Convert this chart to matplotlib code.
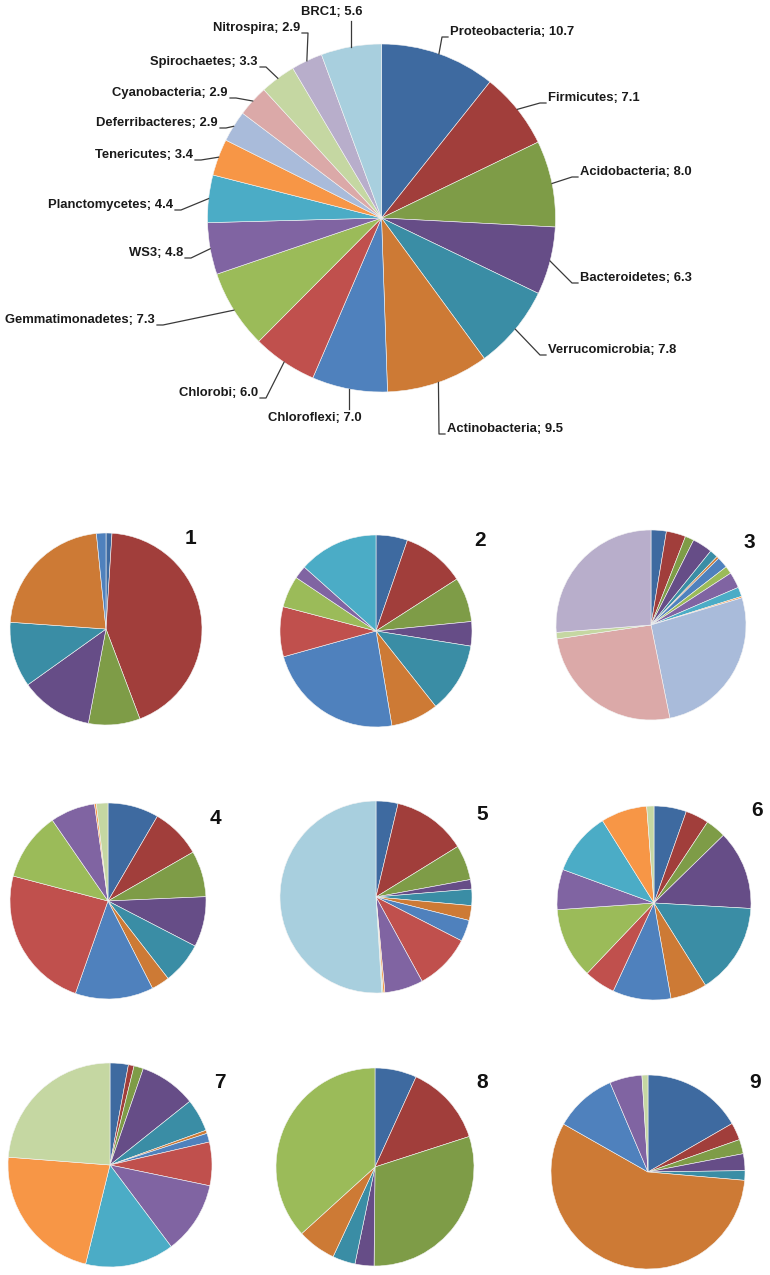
import numpy as np
import matplotlib
matplotlib.use("Agg")
import matplotlib.pyplot as plt

W, H = 770, 1275

# phyla and their share (%) in the pooled sample
phyla = ["Proteobacteria", "Firmicutes", "Acidobacteria", "Bacteroidetes",
         "Verrucomicrobia", "Actinobacteria", "Chloroflexi", "Chlorobi",
         "Gemmatimonadetes", "WS3", "Planctomycetes", "Tenericutes",
         "Deferribacteres", "Cyanobacteria", "Spirochaetes", "Nitrospira", "BRC1"]
total = [10.7, 7.1, 8.0, 6.3, 7.8, 9.5, 7.0, 6.0, 7.3, 4.8, 4.4, 3.4,
         2.9, 2.9, 3.3, 2.9, 5.6]

# per-sample shares (same phylum order)
s1 = [1.0, 43.3, 8.7, 12.2, 11.0, 22.3, 1.6, 0, 0, 0, 0, 0, 0, 0, 0, 0, 0]
s2 = [5.3, 10.6, 7.5, 4.1, 11.8, 8.0, 23.3, 8.4, 5.3, 2.2, 13.4, 0, 0, 0, 0, 0, 0]
s3 = [2.6, 3.3, 1.5, 3.4, 1.4, 0.4, 1.9, 0, 1.3, 2.7, 1.6, 0.25, 26.4, 25.8, 1.1, 26.2, 0]
s4 = [8.4, 8.3, 7.6, 8.3, 6.9, 3.0, 12.9, 23.7, 11.3, 7.4, 0, 0.3, 0, 0, 1.9, 0, 0]
s5 = [3.7, 12.5, 5.9, 1.6, 2.75, 2.5, 3.6, 9.5, 0, 6.5, 0, 0.3, 0, 0, 0.2, 0, 51.0]
s6 = [5.4, 3.9, 3.4, 13.2, 15.2, 6.1, 9.7, 5.2, 11.8, 6.7, 10.5, 7.7, 0, 0, 1.2, 0, 0]
s7 = [2.9, 0.9, 1.5, 9.0, 5.2, 0.5, 1.4, 6.9, 0, 11.5, 14.1, 22.4, 0, 0, 23.8, 0, 0]
s8 = [6.8, 13.2, 30.1, 3.1, 3.7, 6.3, 0, 0, 36.7, 0, 0, 0, 0, 0, 0, 0, 0]
s9 = [16.7, 2.9, 2.4, 2.8, 1.6, 56.9, 10.4, 0, 0, 5.4, 0, 0, 0, 0, 1.0, 0, 0]
samples = [s1, s2, s3, s4, s5, s6, s7, s8, s9]
sample_names = ["1", "2", "3", "4", "5", "6", "7", "8", "9"]

colors = ["#3E6AA0", "#A13E3B", "#7E9C47", "#664D87", "#3A8DA5", "#CD7A35",
          "#4F81BD", "#C0504D", "#9BBB59", "#8064A2", "#4BACC6", "#F79646",
          "#A9BBDA", "#DBA9A8", "#C5D7A2", "#B8AECB", "#A8CFDE"]

# layout (pixel coords, y down)
big_c, big_r = (381.5, 218), 174
label_pos = [(450, 32, "left"), (548, 98, "left"), (580, 172, "left"),
             (580, 278, "left"), (548, 350, "left"), (447, 429, "left"),
             (315, 418, "center"), (258, 393, "right"), (155, 320, "right"),
             (183, 253, "right"), (173, 205, "right"), (193, 155, "right"),
             (218, 123, "right"), (228, 93, "right"), (258, 62, "right"),
             (300, 28, "right"), (332, 12, "center")]
small_c = [(106, 629, 96), (376, 631, 96), (651, 625, 95),
           (108, 901, 98), (376, 897, 96), (654, 903, 97),
           (110, 1165, 102), (375, 1167, 99), (648, 1172, 97)]
num_pos = [(190, 538), (480, 540), (749, 543), (215, 819), (482, 815),
           (757, 810), (220, 1082), (482, 1082), (755, 1083)]


def draw_pie(ax, values, cx, cy, r):
    vals = [v for v in values if v > 0]
    cols = [colors[i] for i, v in enumerate(values) if v > 0]
    wedges, _ = ax.pie(vals, colors=cols, startangle=90, counterclock=False,
                       center=(cx, H - cy), radius=r,
                       wedgeprops=dict(linewidth=0.4, edgecolor="#f4f4f4"))
    return wedges


fig = plt.figure(figsize=(W / 100, H / 100), dpi=100)
ax = fig.add_axes([0, 0, 1, 1])

# big pie with leader-line labels
wedges = draw_pie(ax, total, big_c[0], big_c[1], big_r)
font = dict(family="Liberation Sans", fontweight="bold", fontsize=9.4, color="#1a1a1a")
for w, name, val, (tx, ty, ha) in zip(wedges, phyla, total, label_pos):
    a = np.deg2rad((w.theta1 + w.theta2) / 2)
    ex = w.center[0] + w.r * np.cos(a)
    ey = w.center[1] + w.r * np.sin(a)
    if ha == "left":
        xs, ys = [ex, tx - 8, tx - 2], [ey, H - ty - 5, H - ty - 5]
    elif ha == "right":
        xs, ys = [ex, tx + 8, tx + 2], [ey, H - ty - 5, H - ty - 5]
    elif ty > big_c[1]:
        xs, ys = [ex, ex], [ey, H - ty + 9]
    else:
        xs, ys = [ex, ex], [ey, H - ty - 9]
    ax.plot(xs, ys, color="#3a3a3a", lw=0.9)
    ax.text(tx, H - ty, f"{name}; {val:.1f}", ha=ha, va="center", **font)

# the nine sample pies
for vals, (cx, cy, r), (nx, ny), nm in zip(samples, small_c, num_pos, sample_names):
    draw_pie(ax, vals, cx, cy, r)
    ax.text(nx, H - ny, nm, ha="center", va="center", family="Liberation Sans",
            fontweight="bold", fontsize=15, color="#111111")

ax.set_xlim(0, W)
ax.set_ylim(0, H)
ax.set_aspect("equal")
ax.axis("off")
fig.savefig("out.png", dpi=100, facecolor="white")
